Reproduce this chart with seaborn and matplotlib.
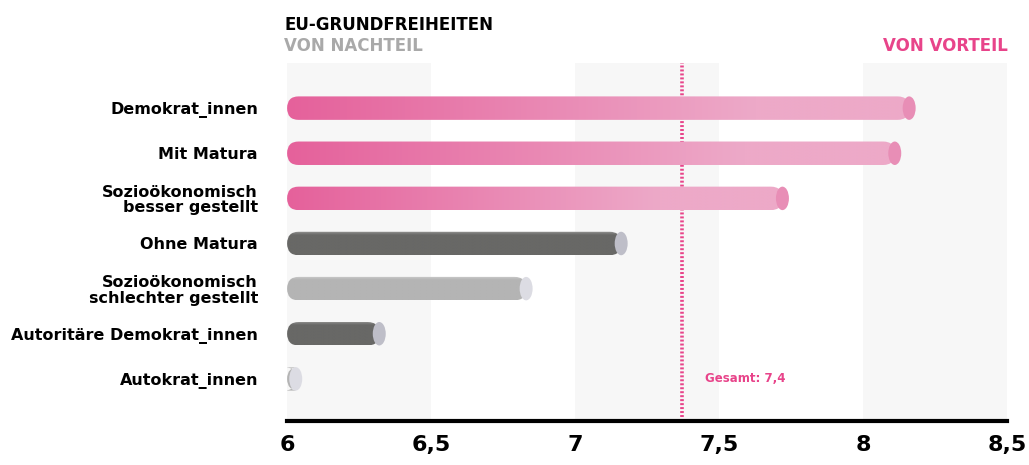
"""Horizontal bar chart: EU-Grundfreiheiten by group"""
import numpy as np
import pandas as pd
import seaborn as sns
import matplotlib.pyplot as plt
from matplotlib.patches import FancyBboxPatch, Ellipse
from matplotlib.colors import to_rgb

GROUPS = ["Demokrat_innen", "Mit Matura", "Sozioökonomisch\nbesser gestellt",
          "Ohne Matura", "Sozioökonomisch\nschlechter gestellt",
          "Autoritäre Demokrat_innen", "Autokrat_innen"]
VALUES = [8.16, 8.11, 7.72, 7.16, 6.83, 6.32, 6.03]
KIND = ["pink", "pink", "pink", "dark", "light", "dark", "light"]
GESAMT = 7.37
XTICKS = [6, 6.5, 7, 7.5, 8, 8.5]
XTICK_LABELS = ["6", "6,5", "7", "7,5", "8", "8,5"]

PINK = "#E8448A"
BASE = {"pink": "#E5619B", "dark": "#686866", "light": "#B4B4B4"}
CAP = {"pink": "#E88EB6", "dark": "#BEBEC8", "light": "#DCDCE3"}

df = pd.DataFrame({"group": GROUPS, "value": VALUES, "kind": KIND})

sns.set_style("white")
plt.rcParams["font.family"] = ["DejaVu Sans"]
plt.rcParams["text.color"] = "black"
plt.rcParams["xtick.color"] = "black"
plt.rcParams["ytick.color"] = "black"
fig = plt.figure(figsize=(10.29, 4.65), dpi=100)
ax = fig.add_axes([0.279, 0.095, 0.6997, 0.7695])

sns.barplot(data=df, x="value", y="group", hue="group", orient="h",
            palette=[BASE[k] for k in KIND], width=0.52, legend=False, ax=ax)
bars = sorted(list(ax.patches), key=lambda p: p.get_y())

# alternating background bands
for lo in XTICKS[::2]:
    ax.axvspan(lo, lo + 0.5, color="#F7F7F7", zorder=0, lw=0)

ax.axvline(GESAMT, color=PINK, lw=2.6, dashes=(0.55, 0.55), zorder=1)

rx = 0.04  # half-width of round ends in data units
for patch, kind in zip(bars, KIND):
    y0 = patch.get_y()
    h = patch.get_height()
    val = patch.get_x() + patch.get_width()
    patch.set_visible(False)
    x0 = 6.0
    w = val - x0
    shape = FancyBboxPatch((x0, y0), w, h,
                           boxstyle=f"round,pad=0,rounding_size={rx}",
                           mutation_aspect=(h / 2) / rx, lw=0,
                           facecolor="none", edgecolor="none", zorder=2)
    ax.add_patch(shape)
    nx, ny = 200, 40
    img = np.zeros((ny, nx, 3))
    if kind == "pink":
        c0, c1 = np.array(to_rgb("#E5619B")), np.array(to_rgb("#EDA9C8"))
        t = np.clip(np.linspace(0, 1, nx) / 0.75, 0, 1)[None, :, None]
        img[:] = c0 * (1 - t) + c1 * t
    else:
        base = np.array(to_rgb(BASE[kind]))
        img[:] = base
        hl = np.linspace(0.3, 0, 7)[:, None, None]
        img[:7] = base * (1 - hl) + np.ones(3) * hl
    im = ax.imshow(img, extent=(x0, val, y0 + h, y0), aspect="auto",
                   interpolation="bilinear", zorder=2)
    im.set_clip_path(shape)
    cap = Ellipse((val, y0 + h / 2), width=0.045, height=h,
                  facecolor=CAP[kind], edgecolor="none", zorder=3)
    ax.add_patch(cap)

ax.set_aspect("auto")
ax.set_xlim(6, 8.5)
ax.set_ylim(6.93, -1.0)

ax.set_xticks(XTICKS)
ax.set_xticklabels(XTICK_LABELS, fontsize=16, fontweight="bold")
ax.set_yticks(range(len(GROUPS)))
ax.set_yticklabels(GROUPS, fontsize=11.5, fontweight="bold",
                   multialignment="right", linespacing=1.05)
ax.tick_params(axis="y", length=0, pad=21)
ax.tick_params(axis="x", length=7, width=3, color="black", pad=3)
ax.set_xlabel("")
ax.set_ylabel("")
for side in ["top", "right", "left"]:
    ax.spines[side].set_visible(False)
ax.spines["bottom"].set_linewidth(3)
ax.spines["bottom"].set_color("black")
ax.spines["bottom"].set_zorder(5)

fig.text(284 / 1029, 1 - 25 / 465, "EU-GRUNDFREIHEITEN", fontsize=12,
         fontweight="bold", color="black", va="center", ha="left")
fig.text(284 / 1029, 1 - 46 / 465, "VON NACHTEIL", fontsize=12,
         fontweight="bold", color="#A9A9A9", va="center", ha="left")
fig.text(1008 / 1029, 1 - 46 / 465, "VON VORTEIL", fontsize=12,
         fontweight="bold", color=PINK, va="center", ha="right")
ax.text(GESAMT + 0.08, 6.0, "Gesamt: 7,4", fontsize=8.5, fontweight="bold",
        color=PINK, va="center", ha="left", zorder=4)

fig.savefig("out.png", dpi=100)
